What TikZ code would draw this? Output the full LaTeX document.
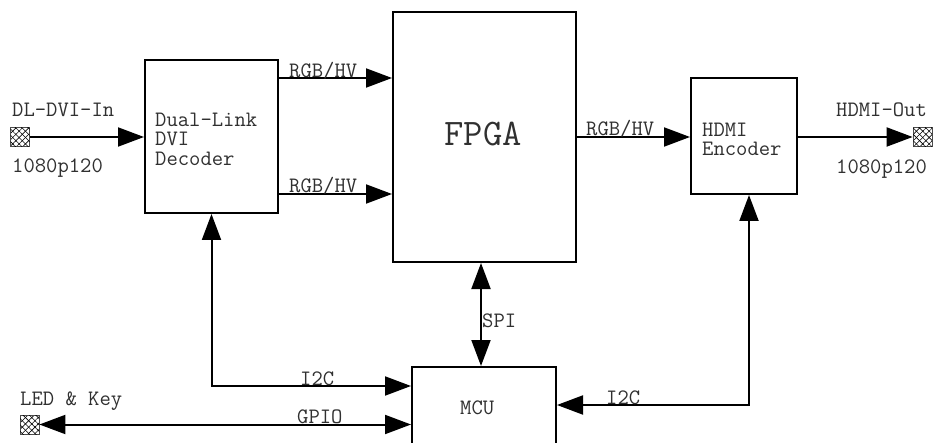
\documentclass[tikz,border=0pt]{standalone}
\usepackage{fontspec}
\usetikzlibrary{arrows.meta,patterns.meta}
\definecolor{txt}{HTML}{303030}
\newcommand{\lbfont}{\ttfamily\fontsize{22}{22}\selectfont}
\newcommand{\blkfont}{\ttfamily\fontsize{22}{19.5}\selectfont}
\newcommand{\bigfont}{\ttfamily\fontsize{37.5}{38}\selectfont}
\begin{document}
\begin{tikzpicture}[x=1pt,y=-1pt,
  blk/.style={draw, line width=2pt, rectangle, inner sep=0pt},
  lbl/.style={font=\lbfont, text=txt, inner sep=0pt, anchor=base west,
    text height=13pt, text depth=3pt},
  blktxt/.style={font=\blkfont, text=txt, inner sep=0pt, align=left, anchor=north west},
  tip/.tip={Triangle[length=26pt,width=19pt]},
  arr/.style={line width=2pt, -tip},
  darr/.style={line width=2pt, tip-tip},
  port/.style={draw=black!70, line width=0.8pt, minimum size=19pt, inner sep=0pt,
    pattern={Lines[angle=45,distance=4.5pt,line width=0.6pt]},
    postaction={pattern={Lines[angle=-45,distance=4.5pt,line width=0.6pt]}}}
]
\path[use as bounding box, clip] (0,0) rectangle (933,443);
\fill[white] (0,0) rectangle (933,443);

% blocks
\node[blk, minimum width=133pt, minimum height=153pt] (dec) at (211.5,136.5) {};
\node[blk, minimum width=183pt, minimum height=250pt] (fpga) at (484.5,137) {};
\node[blk, minimum width=106pt, minimum height=116pt] (hdmi) at (744,136) {};
\node[blk, minimum width=144pt, minimum height=82pt] (mcu) at (484,408) {};

% ports
\node[port] (inport) at (20,137) {};
\node[port] (outport) at (922.5,137) {};
\node[port] (ledport) at (29.5,424.5) {};

% block texts
\node[blktxt] (tdec) at (155,112.5) {Dual-Link\\DVI\\Decoder};
\node[font=\bigfont, text=txt, inner sep=0pt, anchor=base] (tf) at (483,146) {FPGA};
\node[blktxt] (thdmi) at (702,122.6) {HDMI\\Encoder};
\node[lbl] (t6) at (460,414) {MCU};

% connectors
\draw[arr] (inport.east) -- (dec.west |- inport.east);
\draw[arr] ([yshift=58.5pt]dec.east) -- ([yshift=58.5pt]dec.east -| fpga.west);
\draw[arr] ([yshift=-57.5pt]dec.east) -- ([yshift=-57.5pt]dec.east -| fpga.west);
\draw[arr] (fpga.east) -- (fpga.east -| hdmi.west);
\draw[arr] (hdmi.east |- outport.west) -- (outport.west);
\draw[darr] (dec.south) |- ([yshift=22pt]mcu.west);
\draw[darr] (ledport.east) -- (ledport.east -| mcu.west);
\draw[darr] ([xshift=-3.5pt]fpga.south) -- ([xshift=-3.5pt]fpga.south |- mcu.north);
\draw[darr] ([yshift=3pt]mcu.east) -| ([xshift=5pt]hdmi.south);

% labels
\node[lbl] (l1) at (12,117) {DL-DVI-In};
\node[lbl] (l2) at (12,173) {1080p120};
\node[lbl] (l3) at (289,78) {RGB/HV};
\node[lbl] (l4) at (289,193) {RGB/HV};
\node[lbl] (l5) at (586,136) {RGB/HV};
\node[lbl] (l6) at (836,117) {HDMI-Out};
\node[lbl] (l7) at (836,174) {1080p120};
\node[lbl] (l8) at (300,385) {I2C};
\node[lbl] (l9) at (297,423) {GPIO};
\node[lbl] (l10) at (20,405) {LED \& Key};
\node[lbl] (l11) at (482,327) {SPI};
\node[lbl] (l12) at (606,404) {I2C};
\end{tikzpicture}
\end{document}
